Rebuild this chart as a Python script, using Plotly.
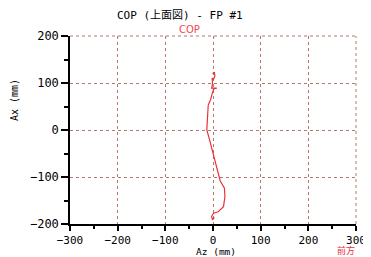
import plotly.graph_objects as go

# COP trajectory (Az, Ax) in mm
az_mm = [-1, 3, 4, 1, -2, -1, -2, -3, 8, 2, -1, -5, -10, -11, -13, -8, -3, 3, 8, 11, 15, 24, 25, 22, 11, 1, -3, -1, 3]
ax_mm = [120, 122, 115, 108, 110, 100, 92, 89, 89, 88, 80, 65, 53, 25, 0, -18, -39, -60, -85, -96, -108, -124, -142, -163, -174, -177, -184, -191, -186]

x_ticks = [-300, -200, -100, 0, 100, 200, 300]
y_ticks = [-200, -100, 0, 100, 200]

MONO = "DejaVu Sans Mono, Noto Sans CJK JP, monospace"
GRID = "#b8776e"

fig = go.Figure()
fig.add_trace(go.Scatter(x=az_mm, y=ax_mm, mode="lines",
                         line=dict(color="#e8323c", width=1.2),
                         name="COP", showlegend=False))


def axis_style(ticklen, minorlen, size):
    return dict(
        showline=True, linecolor="black", linewidth=1.5,
        ticks="outside", ticklen=ticklen, tickwidth=1.5, tickcolor="black",
        showgrid=True, gridcolor=GRID, griddash="dot", gridwidth=1,
        zeroline=False,
        tickfont=dict(family=MONO, size=size, color="black"),
        minor=dict(dtick=50, ticks="outside", ticklen=minorlen, tickwidth=1.5,
                   tickcolor="black", showgrid=False),
    )


fig.update_xaxes(range=[-300, 300], tickvals=x_ticks, **axis_style(5, 3, 11))
fig.update_yaxes(range=[-200, 200], tickvals=y_ticks, **axis_style(7, 4, 12))

# dotted top/right borders
fig.add_shape(type="line", xref="paper", yref="paper", x0=0, x1=1, y0=1, y1=1,
              line=dict(color=GRID, width=1, dash="dot"))
fig.add_shape(type="line", xref="paper", yref="paper", x0=1, x1=1, y0=0, y1=1,
              line=dict(color=GRID, width=1, dash="dot"))


def px_note(text, px, py, font, angle=0):
    fig.add_annotation(text=text, xref="paper", yref="paper", textangle=angle,
                       x=(px - 70) / 286, y=(224 - py) / 188,
                       xanchor="center", yanchor="middle", showarrow=False,
                       font=font)


px_note("COP (上面図) - FP #1", 180, 16, dict(family=MONO, size=11, color="black"))
px_note("COP", 189, 29, dict(family="DejaVu Sans, sans-serif", size=10, color="#f04a50"))
px_note("Az (mm)", 216, 251, dict(family=MONO, size=9.5, color="black"))
px_note("Ax (mm)", 14, 100, dict(family=MONO, size=10, color="black"), angle=-90)
px_note("前方", 346, 250, dict(family="Noto Sans CJK JP", size=9, color="#e8323c"))

# page body has an 8px margin: compensate so the plot area lands at x 70-356, y 36-224
fig.update_layout(
    width=371, height=257,
    margin=dict(l=62, r=23, t=28, b=41),
    paper_bgcolor="white", plot_bgcolor="white",
    showlegend=False,
)

fig.write_html("out.html")
